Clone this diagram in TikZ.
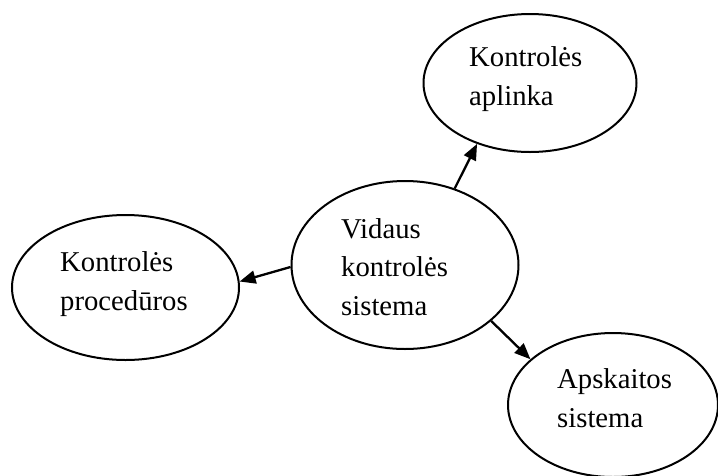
\documentclass[tikz,border=0pt]{standalone}
\usepackage{fontspec}
\setmainfont{Liberation Serif}
\usetikzlibrary{shapes.geometric,arrows.meta}
\begin{document}
\begin{tikzpicture}[x=1pt,y=-1pt,
  bubble/.style={ellipse,draw=black,line width=2pt,inner sep=0pt},
  label text/.style={anchor=base west,align=left,inner sep=0pt,
    font=\fontsize{28.7}{38.5}\selectfont},
  link/.style={line width=2.3pt,-{Triangle[length=16pt,width=13pt]}}]
\useasboundingbox (0,0) rectangle (718,475);

% ellipses
\node[bubble,minimum width=227pt,minimum height=168pt] (core) at (405,265) {};
\node[bubble,minimum width=213pt,minimum height=138pt] (env) at (530,83) {};
\node[bubble,minimum width=227pt,minimum height=145pt] (proc) at (125.5,287.5) {};
\node[bubble,minimum width=210pt,minimum height=144pt] (acct) at (613,405) {};

% labels (anchored at the baseline of their last line)
\node[label text] (coreT) at (341,315) {Vidaus\\kontrolės\\sistema};
\node[label text] (envT) at (469,105) {Kontrolės\\aplinka};
\node[label text] (procT) at (60,310) {Kontrolės\\procedūros};
\node[label text] (acctT) at (557,427) {Apskaitos\\sistema};

% arrows
\draw[link] (core.57) -- (env.229.6);
\draw[link] (core.181) -- (proc.3.2);
\draw[link] (core.-33.4) -- (acct.151);
\end{tikzpicture}
\end{document}
